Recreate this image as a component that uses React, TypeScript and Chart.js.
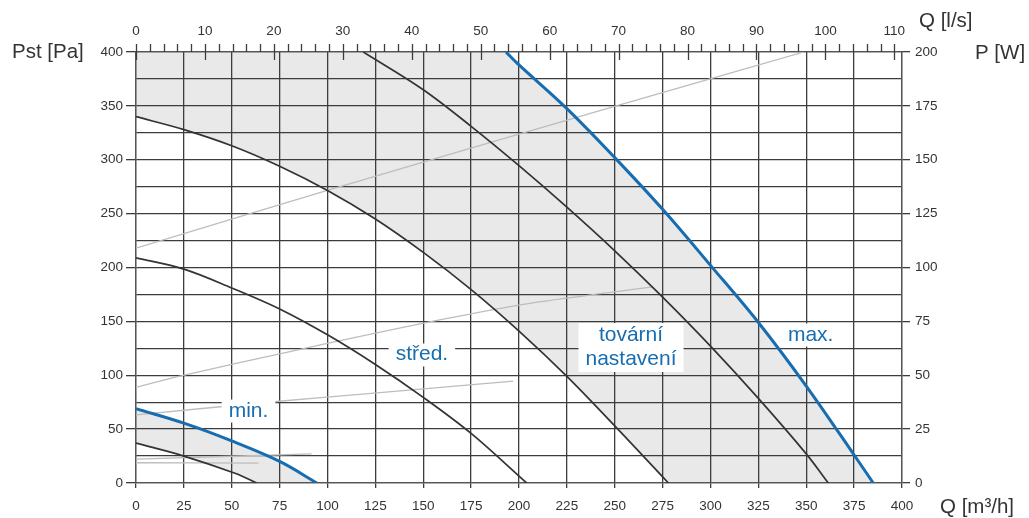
import { useEffect, useRef } from 'react';
import { Chart, registerables } from 'chart.js';

Chart.register(...registerables);

// ---------- data: pressure curves, Q [m3/h] vs Pst [Pa] ----------
const qMinLow = [0, 25, 51.7, 63];
const pMinLow = [37, 25, 9, 0];

const qMin = [0, 25, 50, 75, 94.5];
const pMin = [69, 55.5, 39, 20, 0];

const qMid = [0, 25, 50, 75, 100, 125, 150, 175, 204];
const pMid = [209, 198.5, 181, 161.5, 137.5, 110, 79.5, 46, 0];

const qFactory = [0, 25, 50, 75, 100, 125, 150, 175, 200, 225, 250, 278];
const pFactory = [340, 328, 313, 294, 271.5, 245, 214, 179.5, 141, 99, 53, 0];

const qHigh = [118.7, 150, 175, 200, 225, 250, 275, 300, 325, 350, 361.5];
const pHigh = [400, 365, 331, 294.5, 256, 215.5, 172.5, 127, 78.5, 27, 0];

const qMax = [193.2, 200, 225, 250, 275, 300, 325, 350, 375, 385];
const pMax = [400, 388, 347.5, 302, 254, 202, 149, 90, 26, 0];

// ---------- data: power curves, Q [m3/h] vs P [W] ----------
const qPow1 = [0, 100.8, 249, 348.8];
const wPow1 = [109, 136, 174.5, 200];
const qPow2 = [0, 23, 84, 160.5, 205.7, 270];
const wPow2 = [44.4, 49.6, 61.7, 76, 83.4, 91];
const qPow3 = [0, 71.7, 127.4, 197];
const wPow3 = [31.6, 37.7, 41.9, 47.3];
const qPow4 = [0, 91.7];
const wPow4 = [11.1, 13.5];
const qPow5 = [0, 64];
const wPow5 = [9.4, 9.2];

// shading helper edges (along Pst = 0)
const qShadeEdge = [277.5, 400];
const pShadeEdge = [0, 0];
const qClearEdge = [384, 400];
const pClearEdge = [0, 0];

// ---------- ticks ----------
const qTicksM3h = [0, 25, 50, 75, 100, 125, 150, 175, 200, 225, 250, 275, 300, 325, 350, 375, 400];
const qTicksLs = [0, 10, 20, 30, 40, 50, 60, 70, 80, 90, 100, 110];
const qMinorStepLs = 2;
const pstGrid = [0, 25, 50, 75, 100, 125, 150, 175, 200, 225, 250, 275, 300, 325, 350, 375, 400];
const pstTicks = [0, 50, 100, 150, 200, 250, 300, 350, 400];
const powerTicks = [0, 25, 50, 75, 100, 125, 150, 175, 200];

// ---------- curve labels ----------
const labelTexts = [['min.'], ['střed.'], ['tovární', 'nastavení'], ['max.']];
const labelQ = [58.75, 149.3, 258.5, 352.3];
const labelP = [66.8, 118.8, 125.75, 137.35];

const BLUE = '#176db0';
const DARK = '#333333';
const GRID = '#3c3c3c';
const FRAME = '#555555';
const PGREY = '#bdbdbd';
const SHADE = '#e9e9e9';
const FONT = 'Liberation Sans';

const pts = (xs: number[], ys: number[]) => xs.map((x, i) => ({ x, y: ys[i] }));

const line = (xs: number[], ys: number[], extra: any) => ({
  data: pts(xs, ys),
  pointRadius: 0,
  pointHoverRadius: 0,
  borderWidth: 1.7,
  borderColor: DARK,
  fill: false,
  tension: 0.35,
  xAxisID: 'x',
  yAxisID: 'y',
  ...extra,
});

const overlay = {
  id: 'overlay',
  afterDatasetsDraw(chart: any) {
    const { ctx, chartArea: area, scales } = chart;
    const x2 = scales.x2;
    const xs = scales.x;
    const ys = scales.y;
    ctx.save();
    // top axis ticks (l/s)
    ctx.strokeStyle = GRID;
    ctx.lineWidth = 1.3;
    const maxLs = qTicksLs[qTicksLs.length - 1];
    for (let v = 0; v <= maxLs + 0.001; v += qMinorStepLs) {
      const px = Math.round(x2.getPixelForValue(v)) + 0.5;
      const major = qTicksLs.includes(v);
      ctx.beginPath();
      ctx.moveTo(px, area.top - 8);
      ctx.lineTo(px, major ? area.top + 8 : area.top);
      ctx.stroke();
    }
    // labels with white boxes
    ctx.font = `21px "${FONT}"`;
    ctx.textAlign = 'center';
    ctx.textBaseline = 'alphabetic';
    labelTexts.forEach((lines, i) => {
      const cx = xs.getPixelForValue(labelQ[i]);
      const cy = ys.getPixelForValue(labelP[i]);
      const w = Math.max(...lines.map((t) => ctx.measureText(t).width)) + 14;
      const h = lines.length === 1 ? 23 : 49;
      ctx.fillStyle = '#ffffff';
      ctx.fillRect(cx - w / 2, cy - h / 2, w, h);
      ctx.fillStyle = BLUE;
      const lh = 23.5;
      lines.forEach((t, j) => {
        const by = cy + 5.5 + (j - (lines.length - 1) / 2) * lh;
        ctx.fillText(t, cx, by);
      });
    });
    ctx.restore();
  },
  afterDraw(chart: any) {
    const { ctx } = chart;
    ctx.save();
    ctx.fillStyle = DARK;
    ctx.font = `20.5px "${FONT}"`;
    ctx.textAlign = 'left';
    ctx.textBaseline = 'middle';
    ctx.fillText('Pst [Pa]', 12, 52);
    ctx.fillText('Q [l/s]', 919, 21);
    ctx.fillText('P [W]', 975, 53);
    ctx.fillText('Q [m³/h]', 940, 507);
    ctx.restore();
  },
};

const tickFont = { family: FONT, size: 13.5 };

export default function App() {
  const ref = useRef<HTMLCanvasElement>(null);

  useEffect(() => {
    const canvas = ref.current;
    if (!canvas) return;
    const datasets: any[] = [
      // 0: max curve (clears area above it)
      line(qMax, pMax, { borderColor: BLUE, borderWidth: 3, fill: 'end', backgroundColor: '#ffffff' }),
      // 1: clear column right of max curve
      line(qClearEdge, pClearEdge, { borderWidth: 0, borderColor: 'rgba(0,0,0,0)', fill: 'end', backgroundColor: '#ffffff', tension: 0 }),
      // 2: lowest curve (clears area below it)
      line(qMinLow, pMinLow, { fill: 'start', backgroundColor: '#ffffff' }),
      // 3: factory curve (shades area above it)
      line(qFactory, pFactory, { fill: 'end', backgroundColor: SHADE }),
      // 4: shade column right of factory curve
      line(qShadeEdge, pShadeEdge, { borderWidth: 0, borderColor: 'rgba(0,0,0,0)', fill: 'end', backgroundColor: SHADE, tension: 0 }),
      // 5: min curve (shades area below it)
      line(qMin, pMin, { borderColor: BLUE, borderWidth: 3, fill: 'start', backgroundColor: SHADE }),
      // 6, 7: other pressure curves
      line(qMid, pMid, {}),
      line(qHigh, pHigh, {}),
      // power curves
      line(qPow1, wPow1, { yAxisID: 'y2', borderColor: PGREY, borderWidth: 1.3 }),
      line(qPow2, wPow2, { yAxisID: 'y2', borderColor: PGREY, borderWidth: 1.3 }),
      line(qPow3, wPow3, { yAxisID: 'y2', borderColor: PGREY, borderWidth: 1.3 }),
      line(qPow4, wPow4, { yAxisID: 'y2', borderColor: PGREY, borderWidth: 1.3 }),
      line(qPow5, wPow5, { yAxisID: 'y2', borderColor: PGREY, borderWidth: 1.3 }),
    ];

    const chart = new Chart(canvas, {
      type: 'line',
      data: { datasets },
      options: {
        responsive: false,
        devicePixelRatio: 1,
        animation: false,
        events: [],
        layout: { padding: 0 },
        plugins: {
          legend: { display: false },
          tooltip: { enabled: false },
          filler: { propagate: false, drawTime: 'beforeDraw' },
        },
        scales: {
          x: {
            type: 'linear',
            position: 'bottom',
            min: 0,
            max: 400,
            afterBuildTicks: (s: any) => { s.ticks = qTicksM3h.map((v) => ({ value: v })); },
            ticks: { font: tickFont, color: DARK, padding: 10, autoSkip: false, maxRotation: 0, callback: (v: any) => String(v) },
            grid: { color: GRID, lineWidth: 1.3, tickLength: 5, tickColor: GRID },
            border: { color: FRAME, width: 1.3 },
            afterFit: (s: any) => { s.height = 35; },
          },
          x2: {
            type: 'linear',
            position: 'top',
            min: 0,
            max: 400 / 3.6,
            afterBuildTicks: (s: any) => { s.ticks = qTicksLs.map((v) => ({ value: v })); },
            ticks: { font: tickFont, color: DARK, padding: 13, autoSkip: false, maxRotation: 0, callback: (v: any) => String(v) },
            grid: { display: false, drawTicks: false },
            border: { color: FRAME, width: 1.3 },
            afterFit: (s: any) => { s.height = 52; },
          },
          y: {
            type: 'linear',
            position: 'left',
            min: 0,
            max: 400,
            afterBuildTicks: (s: any) => { s.ticks = pstGrid.map((v) => ({ value: v })); },
            ticks: {
              font: tickFont, color: DARK, padding: 3, autoSkip: false,
              callback: (v: any) => (pstTicks.includes(v) ? String(v) : ''),
            },
            grid: {
              color: GRID, lineWidth: 1.3, tickLength: 10,
              tickColor: (c: any) => (c.tick && pstTicks.includes(c.tick.value) ? GRID : 'rgba(0,0,0,0)'),
            },
            border: { color: FRAME, width: 1.3 },
            afterFit: (s: any) => { s.width = 136; },
          },
          y2: {
            type: 'linear',
            position: 'right',
            min: 0,
            max: 200,
            afterBuildTicks: (s: any) => { s.ticks = powerTicks.map((v) => ({ value: v })); },
            ticks: { font: tickFont, color: DARK, padding: 5, autoSkip: false, callback: (v: any) => String(v) },
            grid: { drawOnChartArea: false, tickLength: 8, tickColor: GRID, lineWidth: 1.3 },
            border: { color: FRAME, width: 1.3 },
            afterFit: (s: any) => { s.width = 127; },
          },
        },
      } as any,
      plugins: [overlay],
    });
    return () => chart.destroy();
  }, []);

  return (
    <div style={{ position: 'absolute', left: 0, top: 0, width: 1029, height: 518, background: '#ffffff' }}>
      <canvas ref={ref} width={1029} height={518} style={{ display: 'block', width: 1029, height: 518 }} />
    </div>
  );
}
